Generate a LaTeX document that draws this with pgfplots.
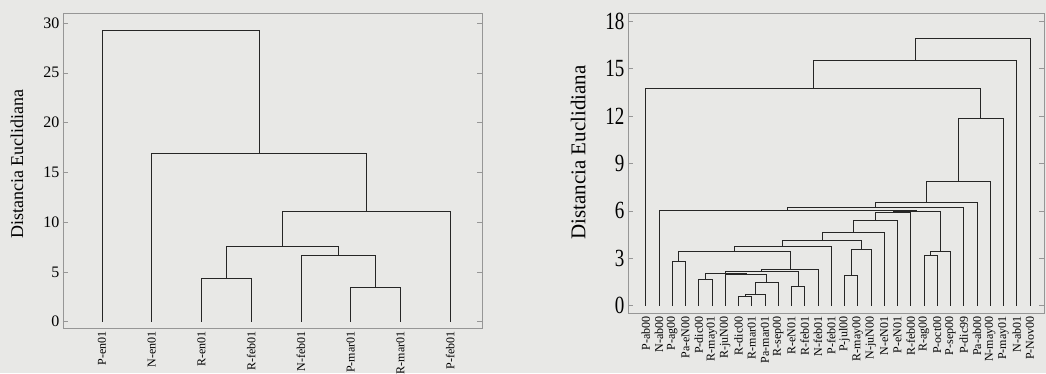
\documentclass[border=0pt]{standalone}
\usepackage{fontspec}
\setmainfont{Liberation Serif}
\usepackage{pgfplots}
\pgfplotsset{compat=1.18}

\definecolor{bg}{RGB}{232,232,230}
\definecolor{ink}{RGB}{38,38,38}
\definecolor{frame}{RGB}{150,150,150}

\pgfplotsset{dendro/.style={
    scale only axis, anchor=south west,
    axis line style={frame, line width=0.5pt},
    tick align=inside, ytick pos=both,
    major tick length=5pt,
    ytick style={frame, line width=0.5pt},
    xtick style={draw=none},
    xticklabel style={rotate=90, anchor=east, font=\fontsize{12}{12}\selectfont},
    /pgf/number format/assume math mode=true,
    unbounded coords=jump,
    ylabel={Distancia Euclidiana},
    ylabel style={anchor=center},
}}

\begin{document}
\begin{tikzpicture}
\fill[bg] (0,0) rectangle (1046pt,373pt);

% left tree
\begin{axis}[dendro,
    at={(63pt,45pt)}, width=419pt, height=315pt,
    xmin=0.215, xmax=8.64, ymin=-0.63, ymax=31,
    xtick={1,...,8},
    xticklabels={P-en01,N-en01,R-en01,R-feb01,N-feb01,P-mar01,R-mar01,P-feb01},
    ytick={0,5,...,30},
    yticklabel style={font=\fontsize{16}{16}\selectfont},
    ylabel style={at={(axis description cs:-0.11,0.52)}, font=\fontsize{18}{18}\selectfont},
  ]
  \addplot[ink, line width=0.8pt, mark=none] coordinates {
    (3,0) (3,4.36) (4,4.36) (4,0) (4,nan)
    (6,0) (6,3.45) (7,3.45) (7,0) (7,nan)
    (5,0) (5,6.7) (6.5,6.7) (6.5,3.45) (6.5,nan)
    (3.5,4.36) (3.5,7.61) (5.75,7.61) (5.75,6.7) (5.75,nan)
    (4.625,7.61) (4.625,11.06) (8,11.06) (8,0) (8,nan)
    (2,0) (2,16.93) (6.3125,16.93) (6.3125,11.06) (6.3125,nan)
    (1,0) (1,29.27) (4.15625,29.27) (4.15625,16.93)
  };
\end{axis}

% right tree
\begin{axis}[dendro,
    at={(628pt,60pt)}, width=416pt, height=300pt,
    xmin=-0.34, xmax=31.06, ymin=-0.46, ymax=18.5,
    xtick={1,...,30},
    xticklabels={P-ab00,N-ab00,P-ag00,Pa-eN00,P-dic00,R-may01,R-juN00,R-dic00,
      R-mar01,Pa-mar01,R-sep00,R-eN01,R-feb01,N-feb01,P-feb01,P-jul00,R-may00,
      N-juN00,N-eN01,P-eN01,R-feb00,R-ag00,P-oct00,P-sep00,P-dic99,Pa-ab00,
      N-may00,P-may01,N-ab01,P-Nov00},
    ytick={0,3,...,18},
    yticklabel style={font=\fontsize{19}{19}\selectfont, yscale=1.3},
    ylabel style={at={(axis description cs:-0.12,0.535)}, font=\fontsize{21}{21}\selectfont},
  ]
  \addplot[ink, line width=0.8pt, mark=none] coordinates {
    (8,0) (8,0.62) (9,0.62) (9,0) (9,nan)
    (8.5,0.62) (8.5,0.72) (10,0.72) (10,0) (10,nan)
    (12,0) (12,1.25) (13,1.25) (13,0) (13,nan)
    (9.25,0.72) (9.25,1.5) (11,1.5) (11,0) (11,nan)
    (5,0) (5,1.65) (6,1.65) (6,0) (6,nan)
    (7,0) (7,2.0) (10.125,2.0) (10.125,1.5) (10.125,nan)
    (5.5,1.65) (5.5,2.07) (8.5625,2.07) (8.5625,2.0) (8.5625,nan)
    (7.03125,2.07) (7.03125,2.2) (12.5,2.2) (12.5,1.25) (12.5,nan)
    (9.7656,2.2) (9.7656,2.28) (14,2.28) (14,0) (14,nan)
    (3,0) (3,2.79) (4,2.79) (4,0) (4,nan)
    (3.5,2.79) (3.5,3.42) (11.8828,3.42) (11.8828,2.28) (11.8828,nan)
    (7.6914,3.42) (7.6914,3.74) (15,3.74) (15,0) (15,nan)
    (16,0) (16,1.9) (17,1.9) (17,0) (17,nan)
    (16.5,1.9) (16.5,3.58) (18,3.58) (18,0) (18,nan)
    (11.3457,3.74) (11.3457,4.12) (17.25,4.12) (17.25,3.58) (17.25,nan)
    (14.2979,4.12) (14.2979,4.63) (19,4.63) (19,0) (19,nan)
    (16.6489,4.63) (16.6489,5.42) (20,5.42) (20,0) (20,nan)
    (22,0) (22,3.21) (23,3.21) (23,0) (23,nan)
    (22.5,3.21) (22.5,3.42) (24,3.42) (24,0) (24,nan)
    (18.3245,5.42) (18.3245,5.9) (21,5.9) (21,0) (21,nan)
    (19.6622,5.9) (19.6622,5.98) (23.25,5.98) (23.25,3.42) (23.25,nan)
    (2,0) (2,6.03) (21.4561,6.03) (21.4561,5.98) (21.4561,nan)
    (11.7281,6.03) (11.7281,6.24) (25,6.24) (25,0) (25,nan)
    (18.364,6.24) (18.364,6.55) (26,6.55) (26,0) (26,nan)
    (22.182,6.55) (22.182,7.84) (27,7.84) (27,0) (27,nan)
    (24.591,7.84) (24.591,11.87) (28,11.87) (28,0) (28,nan)
    (1,0) (1,13.76) (26.2955,13.76) (26.2955,11.87) (26.2955,nan)
    (13.6478,13.76) (13.6478,15.5) (29,15.5) (29,0) (29,nan)
    (21.3239,15.5) (21.3239,16.87) (30,16.87) (30,0)
  };
\end{axis}

\pgfresetboundingbox
\path[use as bounding box] (0,0) rectangle (1046pt,373pt);
\end{tikzpicture}
\end{document}
